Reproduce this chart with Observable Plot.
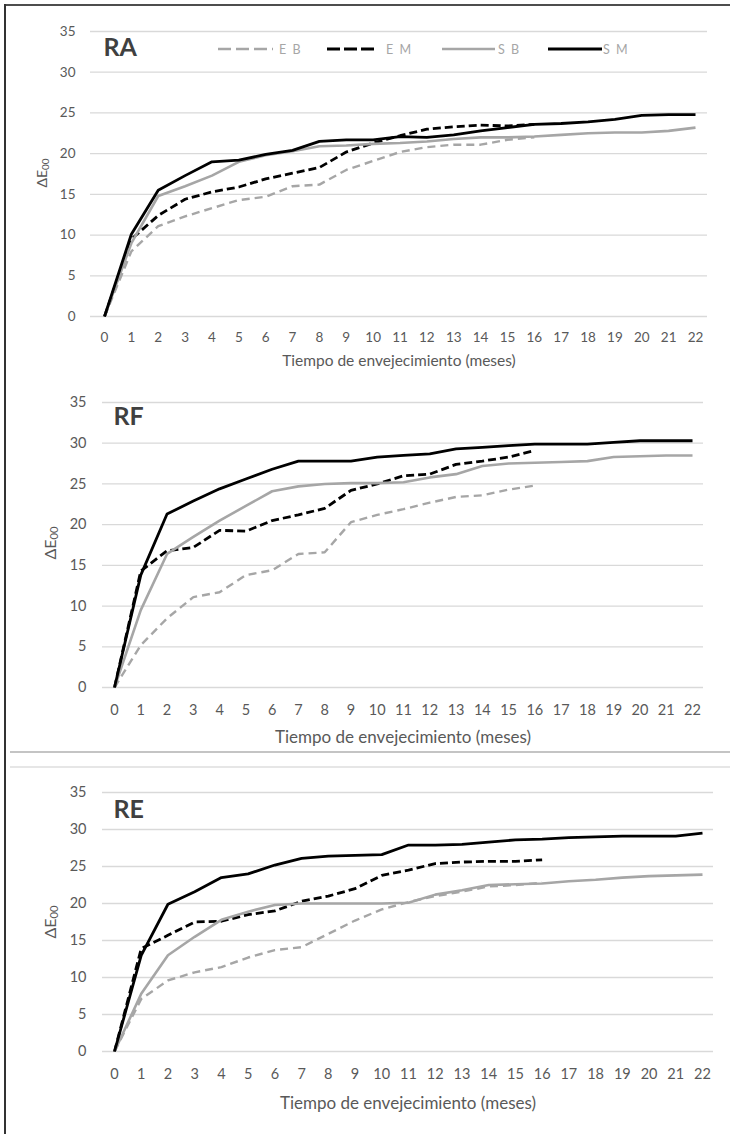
<!DOCTYPE html>
<html>
<head>
<meta charset="utf-8">
<script src="https://cdn.jsdelivr.net/npm/d3@7"></script>
<script src="https://cdn.jsdelivr.net/npm/@observablehq/plot@0.6"></script>
<style>
  body { margin: 0; background: #fff; }
  #page { position: relative; width: 730px; height: 1134px; overflow: hidden; font-family: Lato, "Open Sans", sans-serif; background: #fff; }
  .panel { position: absolute; left: 0; }
  .rule { position: absolute; }
  .ylab { position: absolute; color: #595959; white-space: nowrap; transform: translate(-50%, -50%) rotate(-90deg); }
  .ylab sub { font-size: 0.7em; vertical-align: -0.25em; }
  #legend { position: absolute; left: 0; top: 0; }
</style>
</head>
<body>
<div id="page"></div>
<script>
// ---------- data ----------
const months = [0,1,2,3,4,5,6,7,8,9,10,11,12,13,14,15,16,17,18,19,20,21,22];
const yTicks = [0,5,10,15,20,25,30,35];
const seriesKeys = ["EB", "EM", "SB", "SM"];
const legendLabels = ["E B", "E M", "S B", "S M"];
const xLabel = "Tiempo de envejecimiento (meses)";
const panelTitles = ["RA", "RF", "RE"];

const RA_EB = [0,8.0,11.1,12.3,13.3,14.3,14.7,16.0,16.2,18.0,19.1,20.2,20.8,21.1,21.1,21.7,22.0];
const RA_EM = [0,9.5,12.4,14.4,15.3,15.9,16.9,17.6,18.3,20.2,21.3,22.2,23.0,23.3,23.5,23.4,23.6];
const RA_SB = [0,9.0,14.8,16.0,17.3,19.0,19.8,20.3,20.9,21.0,21.2,21.3,21.5,21.8,22.0,22.0,22.1,22.3,22.5,22.6,22.6,22.8,23.2];
const RA_SM = [0,10.1,15.5,17.3,19.0,19.2,19.9,20.4,21.5,21.7,21.7,22.1,22.0,22.3,22.8,23.2,23.6,23.7,23.9,24.2,24.7,24.8,24.8];

const RF_EB = [0,5.2,8.5,11.1,11.7,13.8,14.4,16.4,16.6,20.3,21.2,21.9,22.7,23.4,23.6,24.3,24.8];
const RF_EM = [0,14.3,16.8,17.2,19.3,19.2,20.5,21.2,22.0,24.2,25.0,26.0,26.2,27.4,27.8,28.3,29.1];
const RF_SB = [0,9.5,16.4,18.5,20.5,22.3,24.1,24.7,25.0,25.1,25.1,25.2,25.8,26.2,27.2,27.5,27.6,27.7,27.8,28.3,28.4,28.5,28.5];
const RF_SM = [0,13.8,21.3,22.9,24.4,25.6,26.8,27.8,27.8,27.8,28.3,28.5,28.7,29.3,29.5,29.7,29.9,29.9,29.9,30.1,30.3,30.3,30.3];

const RE_EB = [0,7.1,9.6,10.7,11.4,12.7,13.7,14.1,15.9,17.7,19.2,20.2,21.0,21.6,22.3,22.5,22.8];
const RE_EM = [0,13.9,15.7,17.5,17.6,18.5,19.0,20.3,21.0,22.0,23.8,24.5,25.4,25.6,25.7,25.7,25.9];
const RE_SB = [0,7.8,13.0,15.5,17.8,18.9,19.8,20.0,20.0,20.0,20.0,20.1,21.2,21.8,22.5,22.6,22.7,23.0,23.2,23.5,23.7,23.8,23.9];
const RE_SM = [0,13.0,19.9,21.6,23.5,24.0,25.2,26.1,26.4,26.5,26.6,27.9,27.9,28.0,28.3,28.6,28.7,28.9,29.0,29.1,29.1,29.1,29.5];

// ---------- styles ----------
const seriesStyle = {
  EB: { stroke: "#a6a6a6", strokeWidth: 2.4, dash: "8,5" },
  EM: { stroke: "#000000", strokeWidth: 2.8, dash: "8,4" },
  SB: { stroke: "#a6a6a6", strokeWidth: 2.6, dash: null },
  SM: { stroke: "#000000", strokeWidth: 2.8, dash: null }
};

const FONT = "Lato, 'Open Sans', sans-serif";
const page = document.getElementById("page");

function rowsFor(values) {
  const rows = [];
  seriesKeys.forEach((k, i) => values[i].forEach((v, j) => rows.push({ series: k, month: months[j], value: v })));
  return rows;
}

function makePanel(cfg) {
  const rows = rowsFor(cfg.values);
  const svg = Plot.plot({
    width: 730,
    height: cfg.height,
    marginTop: cfg.mt, marginBottom: cfg.mb, marginLeft: cfg.ml, marginRight: cfg.mr,
    style: { fontFamily: FONT, fontSize: cfg.tickFont + "px", color: "#595959", background: "transparent", overflow: "visible" },
    x: { domain: [0, 22], insetLeft: cfg.il, insetRight: cfg.ir },
    y: { domain: [0, 35] },
    marks: [
      Plot.gridY(yTicks, { stroke: "#d9d9d9", strokeOpacity: 1, strokeWidth: 1.3 }),
      Plot.axisY(yTicks, { tickSize: 0, tickPadding: cfg.ypad, label: null, fill: "#595959" }),
      Plot.axisX(months, { tickSize: 0, tickPadding: cfg.xpad, label: null, fill: "#595959" }),
      ...seriesKeys.map(k => Plot.line(rows.filter(d => d.series === k), {
        x: "month", y: "value",
        stroke: seriesStyle[k].stroke,
        strokeWidth: seriesStyle[k].strokeWidth,
        strokeDasharray: seriesStyle[k].dash,
        strokeLinejoin: "round",
        strokeLinecap: "butt"
      })),
      Plot.text([cfg.title], { frameAnchor: "top-left", dx: cfg.tdx, dy: cfg.tdy, lineAnchor: "top", fontWeight: "bold", fontSize: cfg.titleFont, fill: "#404040" }),
      Plot.text([xLabel], { frameAnchor: "bottom", dy: cfg.xlabDy, lineAnchor: "middle", fontSize: cfg.xlabFont, fill: "#595959", style: "letter-spacing:0.9px" })
    ]
  });
  svg.classList.add("panel");
  svg.style.top = cfg.top + "px";
  page.appendChild(svg);

  const yl = document.createElement("div");
  yl.className = "ylab";
  yl.style.left = cfg.ylabX + "px";
  yl.style.top = cfg.ylabY + "px";
  yl.style.fontSize = cfg.ylabFont + "px";
  yl.innerHTML = "ΔE<sub>00</sub>";
  page.appendChild(yl);
}

makePanel({ title: panelTitles[0], values: [RA_EB, RA_EM, RA_SB, RA_SM], top: 0, height: 375,
  mt: 31, mb: 59, ml: 90, mr: 23, il: 14, ir: 12, ypad: 15, xpad: 16, tickFont: 13.5,
  tdx: 13, tdy: 7, titleFont: 25, xlabDy: 45, xlabFont: 15.5, ylabX: 42, ylabY: 173, ylabFont: 14 });

makePanel({ title: panelTitles[1], values: [RF_EB, RF_EM, RF_SB, RF_SM], top: 380, height: 370,
  mt: 22, mb: 63, ml: 102, mr: 27, il: 12, ir: 11, ypad: 16, xpad: 17, tickFont: 14.5,
  tdx: 11, tdy: 5, titleFont: 25, xlabDy: 50, xlabFont: 17, ylabX: 50, ylabY: 543, ylabFont: 16 });

makePanel({ title: panelTitles[2], values: [RE_EB, RE_EM, RE_SB, RE_SM], top: 770, height: 364,
  mt: 22, mb: 83, ml: 102, mr: 17, il: 12, ir: 11, ypad: 16, xpad: 17, tickFont: 14.5,
  tdx: 11, tdy: 8, titleFont: 25, xlabDy: 52, xlabFont: 17, ylabX: 50, ylabY: 922, ylabFont: 16 });

// ---------- legend (panel RA) ----------
const legendPos = [
  { x1: 218, x2: 273, tx: 279 },
  { x1: 327, x2: 376, tx: 386 },
  { x1: 442, x2: 495, tx: 498 },
  { x1: 548, x2: 602, tx: 603 }
];
const ns = "http://www.w3.org/2000/svg";
const leg = document.createElementNS(ns, "svg");
leg.setAttribute("id", "legend");
leg.setAttribute("width", 730);
leg.setAttribute("height", 80);
seriesKeys.forEach((k, i) => {
  const s = seriesStyle[k], p = legendPos[i];
  const ln = document.createElementNS(ns, "line");
  ln.setAttribute("x1", p.x1); ln.setAttribute("x2", p.x2);
  ln.setAttribute("y1", 49); ln.setAttribute("y2", 49);
  ln.setAttribute("stroke", s.stroke);
  ln.setAttribute("stroke-width", s.strokeWidth);
  if (s.dash) ln.setAttribute("stroke-dasharray", k === "EB" ? "13,5" : "13,4");
  leg.appendChild(ln);
  const t = document.createElementNS(ns, "text");
  t.setAttribute("x", p.tx); t.setAttribute("y", 49);
  t.setAttribute("dy", "0.36em");
  t.setAttribute("font-family", FONT);
  t.setAttribute("font-size", 12.5);
  t.setAttribute("letter-spacing", 1.5);
  t.setAttribute("fill", "#a6a6a6");
  t.textContent = legendLabels[i];
  leg.appendChild(t);
});
page.appendChild(leg);

// ---------- frame rules ----------
function rule(style) {
  const d = document.createElement("div");
  d.className = "rule";
  Object.assign(d.style, style);
  page.appendChild(d);
}
rule({ left: "5px", top: "4px", width: "725px", height: "1.5px", background: "#4d4d4d" });
rule({ left: "4px", top: "4px", width: "1.5px", height: "1130px", background: "#333" });
rule({ left: "10px", top: "751px", width: "720px", height: "2px", background: "#c4c4c4" });
rule({ left: "10px", top: "766px", width: "720px", height: "1.5px", background: "#e6e6e6" });
</script>
</body>
</html>
